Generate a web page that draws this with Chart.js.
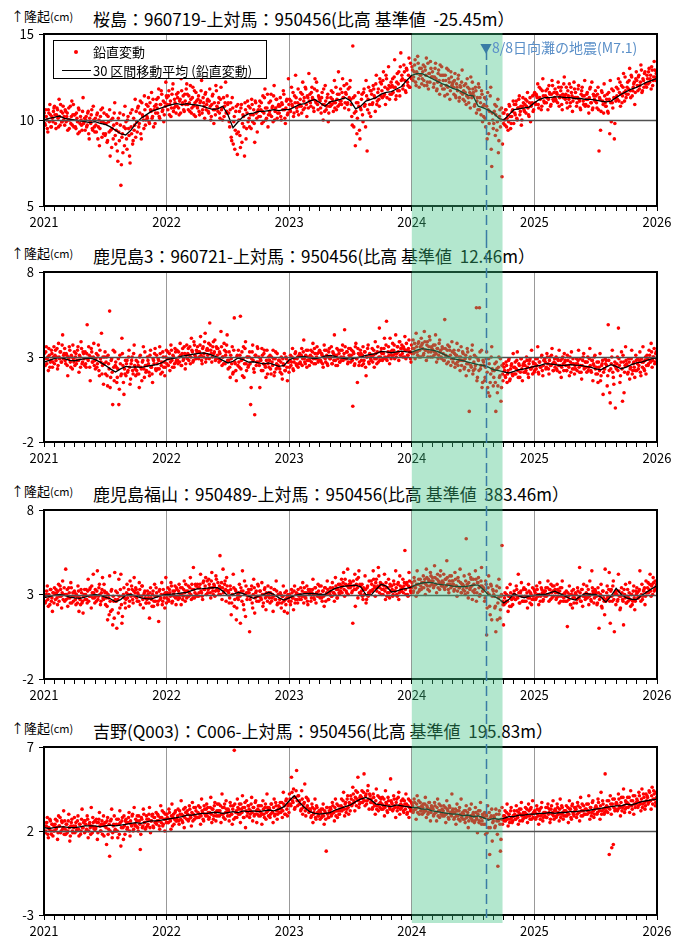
<!DOCTYPE html>
<html><head><meta charset="utf-8">
<script src="https://cdn.jsdelivr.net/npm/chart.js@4.4.1/dist/chart.umd.min.js"></script>
<style>
html,body{margin:0;padding:0;background:#fff;width:675px;height:940px;overflow:hidden;font-family:"Noto Sans CJK JP",sans-serif;}
.panel{position:absolute;left:0;width:675px;height:238px;}
.panel canvas{position:absolute;left:0;top:0;z-index:2;}
.unit{position:absolute;left:11px;font-size:13px;line-height:20px;z-index:1;color:#000;white-space:nowrap;}
.unit small{font-size:11px;}
.title{position:absolute;left:93px;font-size:17px;line-height:20px;z-index:1;white-space:pre;color:#000;}
.legend{position:absolute;left:53px;top:40px;width:212px;height:37px;border:1px solid #000;background:#fff;z-index:3;font-size:13px;}
.legend .dot{position:absolute;left:20px;top:9px;width:4px;height:4px;border-radius:2px;background:#f00;}
.legend .ln{position:absolute;left:8px;top:29px;width:29px;height:1px;background:#000;}
.legend .t{position:absolute;left:39px;line-height:16px;white-space:nowrap;}
.quake{position:absolute;left:480px;top:38px;font-size:14px;line-height:18px;color:#5a8fc8;z-index:3;white-space:nowrap;}
.quake b{font-weight:normal;color:#3a7ca5;font-size:12px;}
</style></head>
<body>
<div class="panel" style="top:0px"><canvas id="c0" width="675" height="238"></canvas>
 <div class="unit" style="top:6px">↑隆起<small>(cm)</small></div><div class="title" id="t0" style="top:9px"></div></div>
<div class="panel" style="top:238px"><canvas id="c1" width="675" height="238"></canvas>
 <div class="unit" style="top:5px">↑隆起<small>(cm)</small></div><div class="title" id="t1" style="top:8px"></div></div>
<div class="panel" style="top:476px"><canvas id="c2" width="675" height="238"></canvas>
 <div class="unit" style="top:5px">↑隆起<small>(cm)</small></div><div class="title" id="t2" style="top:8px"></div></div>
<div class="panel" style="top:714px"><canvas id="c3" width="675" height="238"></canvas>
 <div class="unit" style="top:4px">↑隆起<small>(cm)</small></div><div class="title" id="t3" style="top:7px"></div></div>
<div class="legend"><span class="dot"></span><span class="t" style="top:3px">鉛直変動</span><span class="ln"></span><span class="t" style="top:22px">30 区間移動平均 (鉛直変動)</span></div>
<div class="quake"><b>▼</b>8/8日向灘の地震(M7.1)</div>
<script>
// ---------- data ----------
const xYears = [2021, 2022, 2023, 2024, 2025, 2026];
const bandStart = 2024.0, bandEnd = 2024.74, quakeDate = 2024.605;
const panelTitles = [
  "桜島：960719-上対馬：950456(比高 基準値  -25.45m）",
  "鹿児島3：960721-上対馬：950456(比高 基準値  12.46m）",
  "鹿児島福山：950489-上対馬：950456(比高 基準値  383.46m）",
  "吉野(Q003)：C006-上対馬：950456(比高 基準値  195.83m）"
];
const yTicks0 = [5, 10, 15];
const yTicks1 = [-2, 3, 8];
const yTicks2 = [-2, 3, 8];
const yTicks3 = [-3, 2, 7];
const refLevels = [10, 3, 3, 2];

// daily vertical change, two interleaved sample sets (10 samples per month each, Jan 2021 - Dec 2025), cm
const sakurajimaDaily = [
10.4,9.7,10.2,9.5,10.6,9.9,10.3,9.6,10.1,10.5, 10.8,9.8,10.3,10.6,9.6,10.2,10.9,9.9,10.4,10.0,
9.7,10.5,10.2,9.4,10.7,10.0,9.8,11.1,10.3,9.6, 10.3,9.5,10.1,9.2,10.6,9.8,10.0,9.4,11.3,9.9,
9.4,10.2,9.7,10.5,8.9,9.9,10.3,9.5,10.8,9.6, 10.1,9.3,10.4,9.6,8.5,10.2,9.9,10.7,9.2,9.8,
9.2,10.3,8.8,9.9,10.6,9.4,8.4,10.1,9.7,11.0, 8.6,9.8,7.6,9.3,10.4,6.2,9.0,8.1,9.6,10.8,
9.9,8.3,10.2,9.1,7.5,9.6,10.6,8.8,9.4,11.2, 10.5,9.3,10.8,9.8,11.1,8.9,10.3,10.0,11.4,9.7,
10.9,10.1,11.3,9.8,10.6,11.6,10.2,9.6,10.8,10.4, 11.2,10.4,11.8,10.1,10.9,11.5,10.6,9.9,11.0,12.2,
11.3,10.6,11.7,10.9,10.2,11.5,12.1,10.7,11.0,10.4, 10.8,11.6,10.3,11.2,12.4,10.9,11.4,10.5,11.1,11.8,
11.5,10.6,11.0,12.0,10.4,11.3,10.8,11.7,10.2,11.1, 10.7,11.4,10.3,11.1,12.3,10.6,11.0,10.1,11.6,10.9,
11.2,10.4,11.8,10.0,10.9,11.5,9.8,10.6,12.0,10.8, 10.5,11.3,10.1,11.9,10.7,12.5,10.2,11.0,10.4,11.4,
11.0,9.9,10.6,9.0,11.3,8.6,10.2,9.4,10.8,8.0, 9.3,10.5,8.4,10.9,9.8,10.2,7.9,10.6,9.5,11.1,
10.8,9.6,10.3,11.2,9.9,10.6,8.7,11.0,10.1,10.5, 10.2,11.1,10.6,9.8,11.4,10.4,11.8,10.0,10.7,9.6,
11.0,10.3,11.5,10.7,9.9,12.0,10.5,11.2,10.1,10.8, 10.4,11.3,10.0,10.9,11.7,10.6,9.8,11.1,10.3,12.4,
11.2,10.5,11.9,10.8,10.2,11.4,12.6,10.7,11.0,10.3, 10.9,11.6,10.4,12.2,11.1,10.7,11.8,10.2,11.3,12.7,
11.5,10.8,11.9,11.2,10.5,12.4,11.0,11.7,10.6,11.3, 11.1,10.4,11.6,10.0,10.9,12.0,10.6,11.3,9.9,10.8,
10.8,11.7,11.2,10.5,12.3,11.0,10.6,11.5,12.8,10.9, 11.8,10.9,12.4,11.3,10.7,11.6,12.1,11.0,10.6,11.9,
11.2,10.2,14.3,9.6,11.4,10.5,9.2,11.0,10.8,8.9, 10.6,11.5,9.9,11.8,10.9,12.3,8.2,11.2,10.4,11.7,
11.7,10.9,12.0,11.4,10.5,12.6,11.1,11.8,10.8,12.2, 12.1,11.3,12.8,11.5,10.9,12.4,11.8,13.1,11.2,11.9,
11.5,12.4,11.9,13.5,11.2,12.2,11.7,12.8,11.4,13.9, 12.6,11.8,13.2,12.3,11.6,12.9,12.0,13.6,11.9,12.5,
13.1,12.3,12.8,13.5,12.0,12.7,13.3,11.9,12.6,13.0, 12.4,13.2,12.0,12.9,13.6,12.2,11.8,12.7,13.4,12.5,
12.8,11.9,12.5,13.3,11.7,12.2,12.9,11.5,12.6,13.1, 11.8,12.6,11.4,12.3,13.0,11.9,12.4,11.2,12.8,12.0,
12.2,11.5,12.7,11.3,11.9,12.4,11.1,12.0,11.6,12.9, 11.2,12.0,11.6,10.9,12.4,11.3,11.8,10.7,11.5,12.2,
11.6,10.8,11.9,10.4,11.3,12.1,10.6,11.0,11.7,9.9, 10.2,11.3,9.6,10.8,11.6,9.2,10.5,11.9,7.3,10.0,
9.8,10.9,10.3,9.4,11.2,8.8,10.6,10.0,6.7,10.4, 10.4,9.7,10.6,10.1,9.4,10.9,10.2,9.8,10.5,11.1,
10.9,10.3,11.1,10.0,10.7,11.4,10.5,9.7,10.8,11.0, 10.5,11.2,10.8,11.6,10.3,11.0,9.9,10.9,11.4,10.6,
11.6,10.9,11.4,12.1,10.7,11.3,11.8,10.8,12.4,11.1, 11.0,11.7,11.3,10.6,12.0,11.5,10.9,12.3,11.2,11.6,
11.8,11.1,11.5,12.2,10.8,11.4,11.9,10.6,11.3,12.5, 11.2,11.9,10.7,11.4,12.1,11.0,11.6,10.5,11.3,11.8,
11.6,10.8,11.3,12.0,11.1,10.6,11.7,11.4,10.9,12.3, 10.9,11.5,11.2,10.4,11.8,11.0,12.2,10.7,11.4,11.1,
11.4,10.7,11.9,8.2,11.2,10.5,11.6,10.9,12.1,11.0, 10.8,11.5,10.4,11.2,12.3,9.9,11.0,11.7,8.9,11.3,
11.9,11.2,12.4,11.6,10.8,12.0,11.4,12.7,11.1,11.7, 11.5,12.2,11.8,13.0,11.3,12.5,11.7,12.1,10.9,12.4,
12.3,11.7,12.6,12.0,13.2,11.6,12.4,11.9,12.8,12.1, 12.6,12.1,13.0,12.4,11.8,12.9,12.3,13.4,12.5,12.7
];
const sakurajimaDailyB = [
9.8,10.6,10.0,9.3,10.4,10.9,9.6,10.2,9.9,10.7, 10.3,9.5,10.7,10.1,11.2,9.7,10.5,9.9,10.8,10.2,
10.6,9.9,10.4,10.0,9.5,10.8,10.2,9.7,10.9,10.3, 9.6,10.4,9.9,10.7,9.3,10.2,9.7,10.5,9.8,10.1,
10.0,9.6,10.4,9.2,10.1,9.8,10.6,9.4,10.0,9.3, 9.7,10.3,8.9,10.0,9.5,10.6,9.0,9.9,10.4,9.1,
9.8,8.7,10.2,9.3,7.9,10.0,9.5,8.9,10.4,9.1, 9.4,8.2,10.1,8.8,9.7,7.4,9.2,10.3,8.5,9.5,
8.9,10.0,9.5,7.9,10.4,9.2,8.6,10.1,9.7,9.0, 9.9,10.7,9.6,10.4,9.2,11.0,10.2,9.5,10.6,10.0,
10.2,10.8,9.9,11.0,10.5,10.1,11.2,10.6,9.8,10.9, 10.7,11.3,10.2,10.9,11.7,10.5,11.1,10.3,10.8,11.4,
10.9,11.4,10.3,11.1,10.7,11.8,10.5,11.2,10.8,11.5, 11.3,10.7,11.1,10.4,11.7,11.0,10.6,11.5,10.9,12.1,
10.9,11.4,10.5,11.2,10.7,11.9,10.3,11.0,11.6,10.8, 11.2,10.5,11.0,11.7,10.4,11.3,10.8,11.5,10.6,11.1,
10.5,11.1,10.8,10.2,11.4,10.6,11.0,10.3,11.7,10.7, 11.0,10.4,11.2,10.6,10.0,11.3,10.8,12.2,10.5,10.9,
10.4,9.6,11.0,8.8,10.7,9.9,8.3,10.5,9.2,10.9, 10.0,9.1,10.7,8.7,10.3,9.6,11.0,8.9,10.4,9.9,
10.1,10.7,9.5,10.9,10.3,9.8,11.1,10.4,9.3,10.6, 10.8,10.2,11.0,10.5,9.9,11.3,10.7,10.1,11.5,10.3,
10.5,11.1,10.2,10.8,11.4,10.0,10.7,11.2,10.4,10.9, 10.8,10.2,11.0,10.6,11.5,10.1,10.7,11.2,10.4,10.9,
10.6,11.1,10.9,11.6,10.4,11.0,11.3,10.5,11.8,10.8, 11.2,10.8,11.5,10.6,11.3,11.9,10.9,11.4,10.7,11.1,
11.0,11.6,11.3,10.7,11.8,11.1,12.2,10.9,11.4,11.2, 10.7,11.3,10.9,11.8,10.5,11.1,10.8,11.5,10.4,11.0,
11.3,10.9,11.6,11.0,10.7,11.9,11.2,10.8,11.5,11.1, 11.1,11.6,11.3,12.0,11.0,11.5,10.9,11.8,11.3,12.3,
10.9,9.7,11.3,10.4,8.5,11.0,10.1,11.6,9.4,10.7, 11.2,10.3,11.6,10.8,9.6,11.4,10.6,11.9,10.9,10.2,
11.5,11.0,11.8,11.3,12.1,10.9,11.6,11.2,12.4,11.4, 11.7,12.3,11.4,11.9,12.6,11.3,11.8,12.0,11.5,12.2,
12.0,11.6,12.5,11.9,11.4,12.7,12.1,11.7,13.1,12.3, 12.4,12.0,12.8,11.7,13.0,12.2,12.6,11.9,13.3,12.4,
12.9,12.5,13.2,12.2,12.8,13.7,12.4,13.0,12.6,12.1, 12.8,12.3,13.1,12.6,12.0,13.3,12.7,12.2,13.0,12.5,
12.5,12.1,13.0,12.4,11.8,12.7,12.3,13.2,12.0,12.6, 12.3,11.8,12.6,12.0,11.5,12.9,12.2,11.7,12.5,12.1,
11.9,12.3,11.4,12.1,11.7,12.6,11.3,11.9,12.2,11.5, 11.7,11.1,12.1,11.4,11.9,11.0,11.6,12.5,11.3,11.8,
11.4,10.9,11.7,11.1,10.6,11.9,11.3,10.3,11.5,10.8, 10.9,10.1,11.2,8.9,10.6,9.8,11.4,8.3,10.4,9.5,
10.5,9.1,10.8,9.9,8.1,10.2,9.6,10.7,8.6,9.8, 10.0,10.6,9.6,10.3,9.9,10.8,9.5,10.2,10.6,9.8,
10.4,10.9,10.1,10.7,11.2,10.3,10.8,10.0,11.3,10.6, 10.9,10.4,11.1,10.7,10.2,11.3,10.8,11.0,10.5,11.5,
11.0,11.5,11.3,10.9,11.9,11.2,10.6,11.7,11.4,11.0, 11.4,11.0,11.8,11.2,11.6,10.8,11.5,12.0,11.1,11.3,
11.2,11.6,11.0,11.9,11.3,11.7,10.9,11.5,12.1,11.4, 11.5,11.0,11.7,11.2,10.8,11.9,11.4,11.1,12.2,11.3,
11.3,11.0,11.8,11.2,10.7,11.5,11.9,11.1,11.4,10.8, 11.2,11.6,10.8,11.3,11.9,11.0,10.6,11.5,11.2,11.7,
11.0,11.5,10.6,11.3,9.4,11.7,11.1,10.4,11.4,10.8, 11.2,10.5,11.6,9.2,11.0,11.8,10.7,11.3,9.8,11.1,
11.4,11.8,11.1,12.2,11.5,11.0,11.9,11.6,12.5,11.3, 11.9,11.5,12.3,11.7,12.6,11.4,11.9,12.2,11.6,12.8,
12.0,12.5,11.8,12.2,12.9,11.7,12.3,12.7,12.1,11.9, 12.4,12.8,12.2,12.6,13.1,12.0,12.5,12.9,12.3,12.8
];
// 30-point moving average, half-month steps 2021.0 - 2026.0
const sakurajimaMA = [
10.0,10.1,10.15,10.23,10.1,10.05,10.0,9.95,9.9,9.85,9.9,9.8,9.75,9.6,9.4,9.2,9.13,9.4,9.8,10.1,10.3,10.5,10.6,10.7,
10.8,10.9,10.95,10.9,10.95,10.9,10.87,10.8,10.7,10.62,10.65,10.8,10.3,9.55,9.9,10.2,10.35,10.4,10.5,10.5,10.55,10.6,10.55,10.6,
10.6,10.75,10.9,10.95,11.1,11.2,11.0,10.8,11.05,11.12,11.2,11.3,11.1,10.65,10.8,11.1,11.2,11.3,11.5,11.6,11.65,11.8,11.95,12.3,
12.6,12.7,12.7,12.55,12.4,12.25,12.1,12.0,11.84,11.75,11.6,11.45,11.4,10.8,10.7,10.58,10.4,10.1,10.0,10.3,10.6,10.65,10.7,10.75,
11.0,11.2,11.3,11.3,11.35,11.35,11.3,11.3,11.25,11.25,11.2,11.2,11.15,11.1,11.05,11.1,11.3,11.5,11.65,11.8,11.9,12.05,12.2,12.3,12.42
];

const kagoshima3Daily = [
3.2,2.5,3.6,2.9,2.2,3.1,2.7,3.4,2.4,3.0, 2.6,3.4,3.0,2.3,3.8,2.9,3.3,2.7,4.3,3.1,
3.5,2.6,3.1,1.9,2.9,3.4,2.4,3.0,3.7,2.7, 2.5,3.2,2.8,3.6,2.1,3.0,3.9,2.6,3.3,2.9,
3.3,2.4,4.9,2.8,3.1,1.6,3.5,2.7,3.0,2.5, 2.3,3.2,2.6,3.7,1.9,2.9,4.4,2.5,1.4,3.0,
2.0,3.0,1.3,2.6,5.7,1.8,2.9,0.2,2.4,3.3, 2.7,1.5,2.3,0.2,3.1,1.9,4.1,2.5,0.8,2.0,
1.9,2.8,2.2,3.4,1.4,2.6,3.0,2.0,3.7,2.3, 2.8,2.0,2.5,1.2,3.1,2.3,2.7,3.6,1.8,2.5,
2.2,3.0,2.6,1.9,3.4,2.4,1.5,2.8,3.2,2.3, 3.1,2.3,2.8,3.6,2.0,2.7,3.3,2.4,1.9,3.0,
2.6,3.3,2.9,2.2,3.7,2.8,3.1,2.4,3.5,2.7, 3.4,2.6,3.0,3.8,2.5,3.2,2.8,3.6,2.3,3.1,
2.9,3.5,3.1,2.6,4.1,3.3,2.8,3.7,3.0,3.4, 3.6,2.9,3.3,4.2,2.8,3.5,3.0,3.9,2.7,3.4,
3.1,3.8,5.0,3.4,2.7,3.6,3.2,4.0,2.9,3.5, 3.5,2.7,3.2,4.5,2.5,3.0,3.8,2.6,3.3,4.3,
2.3,3.3,1.8,2.9,3.6,2.1,5.3,2.6,1.6,3.1, 3.4,2.4,5.4,2.8,1.9,3.6,2.6,3.9,2.2,3.0,
2.5,3.3,0.2,2.9,3.7,2.3,-0.4,3.1,2.7,3.5, 3.0,1.2,2.8,3.5,2.2,3.2,2.5,1.8,3.4,2.6,
2.4,3.1,2.0,2.7,3.4,1.9,2.9,2.3,3.2,2.5, 2.8,2.1,3.0,1.7,2.6,3.2,2.2,2.9,1.6,2.7,
2.4,3.1,2.7,3.5,2.2,2.9,3.3,2.5,3.0,2.6, 3.2,2.6,3.5,2.9,4.0,2.7,3.1,2.4,3.4,2.8,
2.8,3.4,3.0,3.8,2.6,3.2,2.9,3.6,2.7,3.3, 3.3,2.7,3.1,2.4,3.7,2.9,3.4,2.6,3.0,3.5,
2.9,3.6,2.6,3.2,4.3,2.8,3.1,2.5,3.4,2.7, 3.4,2.8,3.7,3.0,4.6,2.9,3.3,2.6,3.5,3.1,
2.7,3.4,0.1,3.2,2.6,3.8,2.9,3.5,2.5,3.1, 3.2,2.5,3.6,2.8,3.3,1.9,3.0,3.7,2.6,3.1,
2.8,3.5,3.1,2.4,3.9,2.9,3.3,2.7,4.7,3.0, 3.5,2.8,3.2,4.1,2.9,5.1,3.0,3.6,2.6,3.3,
3.1,3.8,3.4,2.9,4.3,3.2,3.6,2.8,3.9,3.5, 3.7,3.0,3.5,4.2,2.9,3.4,3.1,4.0,3.3,2.7,
3.2,4.0,3.5,2.9,4.4,3.3,3.8,3.0,3.6,4.1, 3.8,3.1,4.5,3.4,2.8,3.9,3.3,4.2,3.0,3.6,
3.0,3.7,3.3,4.3,2.7,3.5,3.1,4.0,3.4,2.9, 3.5,2.8,5.2,3.1,2.6,3.7,3.0,3.4,2.5,3.9,
2.7,3.4,2.4,3.1,3.8,2.5,3.0,2.2,3.6,2.8, 3.2,2.3,2.9,1.9,3.5,2.6,-0.2,3.0,2.4,3.7,
2.2,3.1,2.5,5.9,1.8,2.8,5.9,2.3,3.4,1.5, 2.7,1.6,2.4,3.3,1.2,2.9,0.7,2.0,3.6,2.2,
1.8,2.6,-0.2,2.3,1.3,3.0,1.9,0.4,2.5,1.6, 2.4,1.9,2.7,1.5,2.2,2.9,1.7,2.5,2.0,3.2,
2.0,2.7,2.3,3.3,1.8,2.5,2.1,2.9,1.6,2.6, 2.7,2.1,3.0,2.4,1.8,2.8,2.3,3.4,2.0,2.6,
2.2,2.9,2.5,3.6,2.0,2.7,2.4,3.1,1.9,2.8, 2.9,2.3,3.2,2.6,2.0,3.0,2.5,3.5,2.2,2.7,
2.4,3.0,2.2,2.8,3.4,2.5,1.8,2.9,2.6,3.2, 2.8,2.2,3.1,2.5,1.9,2.7,3.3,2.3,2.6,2.0,
2.3,2.9,2.6,3.4,2.1,2.5,1.7,2.8,3.2,2.4, 2.7,2.1,3.0,2.4,3.5,2.2,2.8,1.6,2.5,3.1,
2.0,2.7,1.5,2.4,3.2,1.9,2.6,0.8,2.3,2.9, 2.8,1.3,4.9,2.2,0.3,2.6,3.4,1.8,2.5,0.0,
2.3,3.0,4.7,2.5,1.9,3.3,0.4,2.7,2.1,3.6, 2.6,2.0,2.9,1.7,2.4,3.4,2.2,2.7,1.8,3.1,
2.2,2.9,2.5,3.3,1.9,2.7,3.6,2.3,2.8,2.0, 3.1,2.5,3.4,2.8,3.8,2.4,3.0,3.5,2.7,3.3
];
const kagoshima3DailyB = [
2.9,3.3,2.6,3.0,3.5,2.4,2.8,3.2,2.7,3.6, 3.1,2.8,3.5,2.5,3.0,3.3,2.7,3.7,2.9,3.2,
2.8,3.2,2.5,3.0,3.6,2.7,3.1,2.3,2.9,3.3, 3.0,2.6,3.4,2.8,3.1,2.4,3.5,2.7,3.2,2.5,
2.6,3.2,2.9,3.6,2.4,3.0,3.3,2.7,3.8,2.8, 2.9,2.4,3.1,2.2,3.4,2.7,2.0,3.0,2.6,3.3,
2.7,1.9,3.1,2.3,1.2,2.8,2.1,3.4,1.6,2.5, 2.4,1.8,2.9,1.1,2.6,2.0,3.2,1.5,2.3,2.8,
2.6,2.1,3.0,2.4,1.7,2.8,2.2,3.2,2.5,1.9, 2.2,2.7,2.0,3.0,2.4,1.6,2.8,2.3,3.3,2.1,
2.5,2.8,2.1,3.1,2.4,2.0,2.9,2.6,3.5,2.2, 2.6,2.9,2.3,3.2,2.5,2.1,3.0,2.7,2.4,3.4,
2.9,2.5,3.2,2.7,3.4,2.4,3.0,2.6,3.3,2.8, 2.8,3.3,2.7,3.1,2.5,3.5,2.9,3.2,2.6,3.7,
3.2,2.8,3.6,3.0,3.4,2.7,3.9,3.1,2.9,3.3, 3.3,3.0,3.7,3.1,2.6,3.6,3.2,4.4,2.9,3.5,
3.4,2.9,3.7,3.2,3.0,3.9,3.3,2.8,3.6,3.1, 2.9,3.3,2.8,3.6,3.0,2.6,3.4,3.1,3.7,2.8,
2.8,2.4,3.1,2.6,2.0,3.4,2.7,2.2,3.0,2.5, 2.7,3.1,2.3,3.3,2.9,1.8,3.5,2.6,3.0,2.4,
3.0,2.6,1.2,3.3,2.8,2.1,3.1,2.5,3.6,2.7, 2.5,2.9,2.2,3.1,2.6,3.4,2.4,2.8,2.0,3.0,
2.8,2.3,3.0,2.5,2.9,2.1,3.3,2.6,2.4,2.8, 2.3,2.7,2.0,2.9,2.5,2.2,3.0,2.4,2.7,2.1,
2.8,2.5,3.0,2.3,2.7,3.2,2.6,2.9,2.4,3.1, 2.7,3.1,2.5,3.3,2.9,2.6,3.4,2.8,3.0,2.5,
3.1,2.7,3.3,2.9,3.5,2.6,3.0,3.2,2.8,3.4, 2.8,3.2,2.6,3.0,3.4,2.7,3.1,2.5,3.3,2.9,
3.0,2.6,3.3,2.8,3.1,2.5,3.5,2.9,3.2,2.7, 3.0,3.4,2.8,3.2,3.6,2.9,3.3,2.7,3.1,3.5,
3.1,2.8,3.3,2.5,3.6,2.9,1.5,3.2,2.7,3.4, 2.8,3.1,2.6,3.3,2.4,3.0,3.5,2.7,3.2,2.9,
3.1,2.7,3.4,2.9,3.2,2.6,3.6,3.0,2.8,3.3, 3.2,2.9,3.5,3.0,3.7,2.8,3.3,3.1,4.1,2.9,
3.4,3.1,3.7,3.2,3.0,3.6,3.3,3.9,3.1,3.5, 3.2,3.6,3.0,3.4,3.8,3.1,3.5,3.3,2.9,3.7,
3.5,3.2,3.8,3.3,3.6,3.1,3.9,3.4,3.0,3.7, 3.5,3.2,3.9,3.4,3.7,3.0,3.6,4.0,3.3,3.5,
3.4,3.1,3.7,3.2,3.5,2.9,3.8,3.3,3.0,3.6, 3.2,2.8,3.5,3.0,3.4,2.7,3.6,3.1,2.9,3.3,
2.9,3.2,2.6,3.1,2.7,3.4,2.8,3.0,2.5,3.3, 2.8,2.4,3.1,2.6,3.3,2.2,2.9,2.5,3.4,2.0,
2.7,2.3,3.0,1.6,2.9,2.2,3.3,2.5,1.2,2.8, 2.5,1.8,2.9,2.1,0.9,2.6,1.5,3.0,2.3,1.3,
2.2,1.5,2.7,0.9,2.4,1.8,2.9,1.2,2.0,2.6, 2.2,1.8,2.5,2.0,2.8,1.6,2.3,2.6,1.9,2.4,
2.4,2.0,2.8,2.2,2.6,1.8,2.9,2.3,2.5,2.1, 2.5,2.2,2.8,2.0,2.6,2.9,2.3,2.4,2.7,2.1,
2.6,2.3,2.9,2.1,2.7,2.4,3.0,2.2,2.5,2.8, 2.7,2.4,3.0,2.3,2.8,2.5,3.1,2.6,2.2,2.9,
2.6,2.3,2.9,2.5,2.1,2.8,2.4,3.0,2.2,2.7, 2.5,2.2,2.8,2.4,3.0,2.1,2.6,2.9,2.3,2.5,
2.6,2.2,2.8,2.4,2.9,2.1,2.5,3.0,2.3,2.7, 2.4,2.7,2.2,2.9,2.5,2.1,2.8,2.6,3.0,2.3,
2.4,2.0,2.7,2.2,1.6,2.5,2.8,2.1,2.3,2.6, 2.5,1.9,2.8,0.9,2.3,3.0,2.1,1.4,2.7,2.4,
2.6,2.2,2.9,1.5,2.7,2.3,3.1,0.9,2.5,2.8, 2.5,2.1,2.7,2.3,2.9,2.0,2.6,2.4,2.2,2.8,
2.6,2.3,2.8,2.1,2.9,2.4,2.7,2.2,3.0,2.5, 2.9,2.6,3.1,2.7,3.3,2.8,3.0,2.6,3.2,2.9
];
const kagoshima3MA = [
2.7,2.8,2.9,2.98,2.9,2.8,2.78,2.85,2.9,2.94,2.85,2.7,2.51,2.3,2.12,2.3,2.45,2.4,2.42,2.39,2.45,2.5,2.55,2.65,
2.84,2.9,2.95,3.05,3.1,3.15,3.2,3.24,3.2,3.1,2.98,2.8,2.65,2.75,2.94,2.85,2.7,2.72,2.65,2.6,2.65,2.55,2.45,2.5,
2.84,2.95,3.0,3.04,2.95,2.9,2.95,3.05,3.1,3.04,2.95,2.9,2.88,2.95,3.0,3.1,3.15,3.2,3.33,3.3,3.25,3.3,3.35,3.3,
3.29,3.4,3.49,3.45,3.4,3.33,3.2,3.05,2.9,2.85,2.78,2.7,2.62,2.55,2.5,2.4,2.25,2.2,2.12,2.06,2.15,2.25,2.3,2.38,
2.45,2.5,2.59,2.6,2.55,2.5,2.51,2.55,2.52,2.51,2.45,2.4,2.3,2.25,2.4,2.55,2.45,2.31,2.4,2.55,2.65,2.7,2.8,2.9,2.94
];

const fukuyamaDaily = [
3.2,2.5,3.0,3.5,2.3,2.9,3.3,2.6,2.0,3.1, 3.4,2.7,3.1,2.4,3.6,2.9,3.3,2.2,3.8,3.0,
2.6,4.5,3.0,2.3,3.4,2.8,3.7,2.5,3.1,2.9, 3.1,2.4,2.9,3.5,2.0,2.7,3.3,2.5,1.9,3.0,
2.7,3.3,2.5,3.9,2.9,3.4,2.2,3.1,4.2,2.8, 3.3,2.6,4.4,2.9,3.6,2.4,3.1,4.0,2.7,3.2,
2.4,3.1,1.5,2.8,4.1,2.0,3.3,1.2,2.6,4.3, 3.2,1.0,2.7,3.9,2.2,4.2,1.3,2.9,3.4,2.5,
2.7,3.6,3.0,2.3,3.8,2.9,3.3,2.5,4.0,3.1, 3.3,2.6,3.0,3.7,2.4,2.9,3.5,2.2,3.1,2.8,
2.5,3.2,2.8,1.6,3.4,2.7,3.0,2.3,3.6,2.6, 3.1,2.4,1.4,3.3,2.8,3.7,2.6,3.0,2.2,4.0,
2.8,3.4,2.6,3.1,3.7,2.5,3.2,2.9,3.5,2.4, 3.3,2.7,3.6,3.0,2.4,3.4,2.9,3.8,2.6,3.2,
2.9,3.5,3.1,4.0,2.7,3.3,4.6,2.8,3.6,3.0, 3.6,2.9,3.4,4.2,3.1,2.7,3.8,3.3,4.0,3.0,
3.1,3.9,3.4,2.8,4.3,3.2,3.6,2.9,4.1,3.3, 3.7,3.0,5.3,3.4,2.7,4.5,3.2,3.8,2.6,3.5,
3.2,2.5,3.5,1.8,3.0,4.2,2.3,3.3,1.5,2.8, 2.7,3.6,1.3,3.2,4.4,2.4,3.8,1.7,3.1,2.9,
3.3,0.8,2.9,3.5,2.2,3.9,1.9,3.1,2.6,3.6, 2.6,3.2,2.8,3.7,2.3,3.0,3.4,2.1,2.9,3.5,
3.1,2.5,3.4,2.8,2.0,3.3,2.7,3.8,2.4,3.0, 2.5,3.1,2.2,2.9,3.5,2.0,2.7,3.2,1.9,2.8,
3.0,2.4,3.3,2.8,2.1,3.5,2.7,3.1,2.5,3.0, 2.7,3.4,2.9,3.7,2.5,3.1,2.8,3.5,2.4,3.2,
3.3,2.6,3.1,3.9,2.8,3.4,2.5,3.0,3.6,2.9, 2.8,3.5,2.6,3.2,2.3,3.4,3.0,3.8,2.7,3.1,
3.4,2.9,3.7,3.1,2.6,4.0,3.3,2.8,3.6,3.0, 3.2,3.9,3.5,4.3,2.9,3.6,3.1,4.5,3.4,3.8,
3.7,3.1,1.3,3.5,4.2,3.3,3.9,2.8,4.4,3.6, 3.0,3.6,2.7,3.3,4.1,2.5,3.4,2.9,3.8,3.2,
3.8,3.2,4.4,3.5,2.9,3.9,3.4,4.6,3.1,3.7, 3.0,3.6,3.3,4.2,2.7,3.4,3.1,3.9,2.8,3.5,
3.5,2.9,3.8,3.2,4.4,3.0,3.6,2.7,4.1,3.3, 3.2,3.9,3.5,5.6,3.0,3.7,2.9,4.3,3.4,3.1,
3.7,3.1,4.0,3.4,2.9,4.4,3.6,3.2,3.9,3.3, 3.4,4.1,3.7,3.0,4.5,3.5,3.9,3.2,4.3,3.8,
4.0,3.4,4.7,3.6,3.1,4.2,3.8,3.3,4.4,3.7, 3.5,4.2,3.3,3.9,5.0,3.6,3.1,4.1,3.4,3.8,
3.8,3.2,4.3,3.5,2.9,4.0,3.4,4.5,3.1,3.6, 3.3,4.1,3.0,6.3,3.6,2.8,4.2,3.4,3.9,2.7,
3.9,3.1,4.4,2.6,3.7,4.0,2.9,3.5,4.6,3.2, 3.4,2.6,3.8,0.6,3.1,4.1,2.3,3.6,1.5,3.3,
3.0,2.2,0.8,3.5,2.5,3.9,1.6,2.9,5.9,2.4, 2.4,3.1,2.6,3.4,2.0,2.9,3.6,2.3,2.8,3.0,
3.2,2.7,3.5,2.9,4.2,2.5,3.1,3.7,2.6,3.3, 2.6,3.3,2.9,2.2,3.6,2.8,3.1,2.4,3.4,2.7,
3.2,2.7,3.5,3.0,2.4,3.7,2.9,3.3,2.6,3.1, 2.9,3.4,3.0,3.8,2.6,3.3,3.6,2.8,3.2,3.5,
3.3,2.7,3.6,3.1,2.5,3.4,2.9,3.8,2.6,3.0, 2.6,3.2,1.1,2.9,3.5,2.4,3.0,2.2,3.3,2.8,
3.1,2.5,3.4,2.8,4.6,2.6,3.3,2.3,3.6,2.9, 2.8,3.5,3.0,2.4,3.8,2.7,4.4,3.2,2.5,3.3,
3.1,2.4,3.4,1.0,2.9,3.6,2.2,3.2,2.6,4.5, 2.7,3.5,2.9,4.3,1.3,3.3,2.6,3.8,0.8,3.1,
3.2,2.6,4.2,2.9,2.2,3.4,2.7,1.2,3.0,3.6, 2.5,3.3,2.8,3.7,2.3,3.0,2.6,3.5,2.1,3.2,
3.4,2.8,3.2,4.4,2.6,3.6,2.9,3.3,2.4,3.8, 3.1,3.7,3.3,4.2,2.9,3.6,4.0,3.2,3.8,3.5
];
const fukuyamaDailyB = [
2.9,2.6,3.2,2.7,3.0,2.4,3.3,2.8,3.1,2.5, 3.0,3.3,2.8,3.2,2.6,3.5,2.9,3.1,2.7,3.4,
3.0,2.7,3.3,2.8,3.1,2.5,3.4,2.9,2.6,3.2, 2.7,3.0,2.5,3.2,2.8,2.4,3.1,2.6,2.9,3.3,
3.0,2.7,3.2,2.6,3.3,2.9,3.5,2.8,3.1,2.5, 2.9,3.2,2.7,3.4,3.0,2.6,3.3,2.8,3.6,3.1,
2.8,2.3,3.0,1.8,2.6,3.2,2.1,2.9,1.6,2.7, 2.6,3.1,1.9,2.9,3.3,2.4,1.7,3.0,2.8,2.2,
3.1,2.8,3.3,2.6,3.0,3.5,2.7,3.2,2.9,3.4, 2.8,3.1,2.6,3.3,2.9,3.5,2.7,3.0,3.2,2.5,
2.7,3.0,2.5,3.1,2.8,2.3,3.2,2.6,2.9,3.4, 2.9,2.6,3.2,2.7,3.0,2.4,3.3,2.8,3.1,2.5,
3.1,2.7,3.3,2.9,3.5,2.6,3.0,3.2,2.8,3.4, 2.9,3.2,2.8,3.4,3.0,2.7,3.3,3.1,3.6,2.8,
3.2,2.9,3.4,3.0,3.6,2.8,3.3,3.1,3.5,2.9, 3.4,3.1,3.6,3.2,2.9,3.7,3.3,3.5,3.0,3.8,
3.3,3.6,3.1,3.8,3.4,3.0,3.5,3.2,3.9,3.3, 3.2,3.5,3.0,3.7,3.4,3.1,3.6,3.3,4.0,3.2,
3.1,2.8,3.3,2.5,3.0,3.4,2.7,3.2,2.2,3.0, 3.1,2.9,3.4,2.6,3.2,2.1,3.0,3.5,2.7,3.1,
3.1,2.7,3.3,2.5,3.0,3.4,2.8,3.2,2.9,3.5, 2.9,3.2,2.7,3.0,2.5,3.3,2.8,3.1,2.6,3.0,
2.8,3.1,2.6,3.0,2.9,3.3,2.7,3.2,2.5,3.0, 2.7,3.0,2.5,2.9,2.6,3.1,2.4,2.8,3.0,2.6,
2.9,2.6,3.1,2.8,3.2,2.5,3.0,2.7,3.3,2.9, 3.0,2.7,3.2,2.9,3.4,2.8,3.1,2.6,3.3,3.0,
3.1,2.8,3.3,3.0,2.7,3.4,3.1,2.9,3.2,3.5, 3.0,2.8,3.2,2.9,3.4,2.6,3.1,3.3,2.7,3.0,
3.2,2.9,3.4,3.1,3.0,3.5,2.8,3.3,3.1,3.6, 3.4,3.1,3.7,3.3,3.9,3.2,3.5,3.0,3.6,3.4,
3.5,3.2,3.8,3.3,2.3,3.6,3.4,4.0,3.1,3.5, 3.2,2.9,3.4,3.0,3.3,2.7,3.5,3.1,3.0,3.2,
3.6,3.3,3.9,3.4,3.7,3.2,3.5,4.1,3.4,3.6, 3.3,3.0,3.5,3.2,3.7,2.9,3.4,3.1,3.6,3.2,
3.3,3.0,3.6,3.2,3.4,2.9,3.7,3.1,3.5,3.2, 3.4,3.1,3.7,3.3,3.6,3.0,3.5,3.8,3.2,3.4,
3.5,3.2,3.8,3.4,3.6,3.1,3.9,3.3,3.5,3.7, 3.7,3.4,3.9,3.6,4.0,3.3,3.8,3.5,4.1,3.6,
3.8,3.5,4.0,3.6,3.9,3.4,3.7,4.1,3.5,3.8, 3.7,3.4,3.9,3.5,4.0,3.3,3.8,3.6,4.1,3.5,
3.6,3.3,3.9,3.5,3.2,3.8,3.4,3.7,3.1,3.6, 3.5,3.2,3.8,3.4,3.1,3.7,3.3,4.0,3.5,3.2,
3.6,3.3,3.9,3.1,3.7,3.4,3.0,3.8,3.5,3.2, 3.3,2.8,3.6,2.2,3.4,3.0,1.8,3.5,2.9,3.2,
2.9,2.3,3.2,1.5,2.8,3.4,2.1,3.0,2.6,1.2, 2.8,2.5,3.0,2.6,2.9,2.3,3.1,2.7,2.4,2.8,
3.0,2.7,3.3,2.8,3.1,2.5,3.2,2.9,2.6,3.4, 2.9,2.6,3.1,2.8,3.2,2.5,3.0,2.7,2.9,3.3,
3.1,2.8,3.3,2.9,3.0,2.6,3.4,3.1,2.7,3.2, 3.2,2.9,3.4,3.0,3.3,2.7,3.1,3.5,2.9,3.2,
3.1,2.8,3.3,2.9,3.2,2.6,3.4,3.0,2.8,3.1, 2.9,2.6,3.1,2.7,3.0,2.4,3.2,2.8,2.5,3.0,
3.0,2.7,3.2,2.8,3.1,2.6,3.3,2.9,3.0,2.7, 3.1,2.8,3.3,2.9,3.0,2.6,3.4,3.1,2.8,3.2,
2.9,2.5,3.1,2.7,3.0,2.3,3.2,2.8,1.8,2.6, 3.1,2.8,3.3,2.6,3.2,2.9,3.5,2.7,3.0,2.4,
3.0,2.7,3.2,2.1,2.9,3.1,2.6,3.3,2.8,2.5, 2.9,2.6,3.1,2.7,3.0,2.4,3.2,2.8,2.6,3.0,
3.1,2.8,3.3,2.9,3.0,2.7,3.2,3.4,2.9,3.1, 3.4,3.1,3.6,3.2,3.5,3.0,3.7,3.3,3.4,3.6
];
const fukuyamaMA = [
2.81,2.88,2.95,3.01,2.95,2.85,2.8,2.77,2.85,2.95,3.0,2.95,2.85,2.75,2.57,2.7,2.95,3.0,2.9,2.8,2.75,2.73,2.85,2.95,
3.0,3.02,3.05,3.1,3.13,3.25,3.33,3.35,3.38,3.4,3.4,3.2,2.93,3.0,3.13,3.05,2.9,2.77,2.9,3.0,3.13,3.0,2.8,2.67,
2.8,2.93,3.0,3.05,3.07,3.05,3.0,3.0,3.2,3.36,3.45,3.5,3.52,3.55,3.45,3.0,2.95,3.3,3.6,3.5,3.15,3.2,3.3,3.36,
3.45,3.6,3.68,3.72,3.7,3.62,3.58,3.55,3.5,3.48,3.46,3.5,3.55,3.56,3.3,2.97,2.9,2.75,2.5,2.7,3.05,2.9,2.81,2.9,
2.95,3.0,3.0,3.1,3.2,3.05,2.9,2.75,2.67,2.9,3.07,3.0,3.0,2.85,2.55,2.9,3.36,3.0,2.8,2.72,2.7,2.95,3.15,3.35,3.52
];

const yoshinoDaily = [
2.5,1.9,2.3,2.8,1.6,2.1,2.6,1.8,2.4,2.0, 2.0,2.7,2.2,1.5,2.9,2.3,1.9,2.6,2.1,3.2,
2.6,1.8,2.4,2.0,3.0,1.4,2.3,2.7,1.9,2.2, 1.9,2.5,2.1,2.9,1.7,2.4,2.0,3.3,2.2,2.6,
2.6,2.0,2.9,1.6,2.4,2.2,3.4,1.9,2.5,2.1, 2.1,2.7,1.5,2.5,3.1,2.0,2.4,1.8,2.9,2.3,
2.5,1.2,2.8,2.1,0.5,2.6,3.3,1.9,2.4,2.0, 2.0,2.7,1.6,2.4,3.2,1.1,2.6,2.2,2.9,1.8,
2.7,2.1,2.5,3.1,1.7,2.4,2.9,2.0,3.4,2.3, 2.3,2.9,2.0,2.6,0.9,2.8,2.2,3.3,2.5,2.1,
2.9,2.3,2.7,3.4,1.9,2.6,3.0,2.2,2.8,2.5, 2.4,3.0,2.6,2.1,3.5,2.8,2.3,3.1,2.0,2.7,
3.0,2.5,3.3,2.7,2.1,3.6,2.8,2.4,3.1,2.6, 2.7,3.3,2.4,3.0,3.8,2.6,2.9,2.2,3.4,3.1,
3.2,2.6,3.5,2.9,2.3,3.7,3.0,2.7,3.4,2.8, 2.8,3.5,3.0,2.4,3.9,3.1,2.6,3.3,2.9,3.6,
3.4,2.7,3.1,4.0,2.5,3.3,2.9,3.7,2.6,3.2, 2.9,3.6,3.2,2.5,4.2,3.0,3.4,2.7,3.8,3.1,
3.3,2.6,3.7,3.0,2.4,3.5,6.8,2.8,3.2,3.9, 3.0,3.6,2.5,3.3,4.1,2.8,3.4,2.2,3.8,3.1,
3.5,2.8,3.2,4.0,2.6,3.4,3.0,3.8,2.5,3.3, 2.9,3.5,3.1,2.4,3.8,3.0,3.4,2.7,4.2,3.2,
3.4,2.8,3.6,3.1,2.5,3.9,3.0,3.5,2.7,3.3, 3.1,3.7,3.3,2.8,4.3,3.5,3.0,3.9,2.9,3.6,
4.2,3.6,5.2,3.8,4.5,3.3,4.0,5.6,3.5,4.1, 3.8,3.2,4.4,3.0,3.6,4.8,2.9,3.4,3.9,3.1,
3.3,2.8,3.6,2.5,3.1,3.9,2.7,3.4,2.9,3.2, 2.7,3.3,2.9,3.6,2.4,3.1,0.8,3.4,2.8,3.2,
3.4,2.9,3.7,3.1,2.6,3.9,3.2,2.8,3.5,3.0, 3.2,3.9,3.4,4.3,2.9,3.7,3.3,4.1,3.0,3.6,
4.1,3.5,4.6,3.8,3.2,4.4,3.9,5.2,3.4,4.0, 3.7,4.4,3.9,5.4,3.5,4.2,3.8,4.7,3.3,4.1,
3.9,3.3,4.2,3.6,3.0,4.5,3.5,3.2,4.0,3.7, 3.3,4.0,3.5,2.9,4.4,3.6,3.1,3.8,3.4,5.1,
3.7,3.2,4.1,3.5,2.8,3.9,3.4,4.3,3.0,3.6, 3.4,3.9,3.1,3.6,4.2,3.0,3.5,2.8,3.8,3.3,
3.6,3.1,3.9,3.3,2.7,4.1,3.4,3.0,3.7,3.2, 3.0,3.6,3.2,4.0,2.8,3.4,3.1,3.7,2.6,3.5,
3.4,2.9,3.7,3.1,2.6,3.9,3.2,2.8,3.5,3.0, 2.9,3.5,3.0,2.5,3.8,3.2,2.7,3.4,3.0,4.2,
3.3,2.7,3.1,2.4,3.6,2.9,3.2,2.6,3.9,3.0, 2.7,3.2,2.5,3.5,2.9,2.2,3.3,2.8,3.6,2.6,
3.1,2.5,3.4,2.8,1.9,3.2,2.6,3.7,2.4,3.0, 2.4,3.1,1.8,2.9,3.5,2.2,0.6,2.8,3.3,2.5,
2.9,2.2,3.3,2.6,-0.1,3.0,2.4,1.5,3.4,2.7, 2.6,3.2,2.8,3.6,2.3,3.0,2.7,3.4,2.5,2.9,
3.2,2.7,3.5,2.9,2.4,3.3,3.0,3.7,2.6,3.1, 2.8,3.4,3.0,2.5,3.6,2.9,3.3,2.7,3.8,3.1,
3.2,2.7,3.5,3.0,2.4,3.3,2.9,3.7,2.6,3.1, 2.9,3.4,2.8,3.6,3.1,2.5,3.3,3.0,3.8,2.7,
3.3,2.8,3.6,3.1,2.6,3.9,3.0,3.4,2.7,3.2, 2.9,3.5,3.1,2.5,3.8,3.3,2.7,3.6,3.0,3.4,
3.4,2.8,3.7,3.1,2.6,4.0,3.2,2.9,3.5,3.0, 3.0,3.6,3.2,4.1,2.7,3.4,3.1,3.8,2.8,3.3,
3.5,3.0,3.9,3.3,2.7,4.3,3.2,3.6,3.0,5.4, 3.2,3.8,3.4,0.6,4.1,3.0,3.6,1.2,3.9,3.3,
3.7,3.2,4.2,3.5,2.9,4.0,3.4,4.5,3.1,3.8, 3.4,4.0,3.6,3.1,4.4,3.5,3.8,3.0,4.1,3.6,
3.9,3.4,4.3,3.7,3.2,4.5,3.6,4.0,3.3,4.2, 4.1,3.6,4.4,3.8,3.3,4.6,3.9,4.2,3.5,4.3
];
const yoshinoDailyB = [
2.3,2.0,2.5,1.8,2.2,2.7,2.0,2.4,1.7,2.3, 2.4,2.1,2.6,1.9,2.3,2.8,2.0,2.5,2.2,1.8,
2.1,2.4,1.9,2.6,2.2,1.7,2.5,2.0,2.3,2.8, 2.3,2.0,2.6,2.1,2.4,1.8,2.7,2.2,2.5,1.9,
2.4,2.1,2.7,2.0,2.5,1.8,2.3,2.8,2.2,2.6, 2.2,2.5,1.9,2.7,2.3,2.0,2.6,2.4,1.7,2.5,
2.2,2.6,1.8,2.4,2.0,2.7,1.6,2.3,2.9,2.1, 2.4,2.0,2.7,1.8,2.5,2.2,2.8,1.5,2.3,2.6,
2.5,2.2,2.8,2.0,2.6,2.3,3.0,2.1,2.4,2.7, 2.6,2.2,2.9,2.4,1.8,2.7,2.3,3.0,2.5,2.2,
2.7,2.4,3.0,2.2,2.6,2.9,2.3,2.8,2.5,3.1, 2.6,2.9,2.3,2.8,2.5,3.2,2.4,2.7,3.0,2.5,
2.8,2.5,3.1,2.6,2.9,2.3,3.0,2.7,3.2,2.6, 2.9,2.6,3.2,2.7,3.0,2.5,3.3,2.8,3.1,2.7,
3.0,2.7,3.3,2.8,3.1,2.6,3.4,2.9,3.2,2.8, 3.1,2.8,3.4,2.9,3.2,2.7,3.5,3.0,3.3,2.9,
3.1,2.8,3.4,3.0,3.3,2.7,3.5,3.1,2.9,3.6, 3.2,2.9,3.5,3.0,3.4,2.8,3.6,3.1,3.3,2.9,
3.2,2.9,3.5,3.0,3.3,2.7,3.6,3.1,2.8,3.4, 3.3,3.0,3.6,3.1,3.4,2.8,3.7,3.2,2.9,3.5,
3.3,3.0,3.6,3.1,3.4,2.9,3.7,3.2,3.0,3.5, 3.2,2.9,3.5,3.0,3.3,2.8,3.6,3.1,3.4,2.9,
3.3,3.0,3.6,3.1,3.4,2.9,3.7,3.2,3.0,3.5, 3.4,3.1,3.7,3.2,3.6,3.0,3.8,3.3,3.5,3.1,
3.9,3.5,4.3,3.7,4.0,3.4,4.4,3.8,4.1,3.6, 3.6,3.3,3.9,3.4,3.7,3.2,4.0,3.5,3.8,3.3,
3.2,2.9,3.4,3.0,3.3,2.8,3.5,3.1,2.9,3.2, 3.1,2.8,3.3,2.9,3.2,2.7,3.4,3.0,2.8,3.1,
3.3,3.0,3.5,3.1,3.4,2.9,3.6,3.2,3.0,3.3, 3.5,3.2,3.8,3.3,3.6,3.1,3.9,3.4,3.7,3.2,
3.9,3.6,4.2,3.7,4.0,3.5,4.3,3.8,3.6,4.1, 4.0,3.7,4.3,3.8,4.1,3.6,4.4,3.9,4.2,3.7,
3.7,3.4,4.0,3.5,3.8,3.3,4.1,3.6,3.4,3.9, 3.6,3.3,3.9,3.4,3.7,3.2,4.0,3.5,3.3,3.8,
3.6,3.3,3.9,3.4,3.7,3.2,4.0,3.5,3.3,3.8, 3.5,3.2,3.8,3.3,3.6,3.1,3.9,3.4,3.2,3.7,
3.5,3.2,3.7,3.3,3.6,3.1,3.8,3.4,3.2,3.5, 3.4,3.1,3.6,3.2,3.5,3.0,3.7,3.3,3.1,3.4,
3.3,3.0,3.5,3.1,3.4,2.9,3.6,3.2,3.0,3.3, 3.2,2.9,3.4,3.0,3.3,2.8,3.5,3.1,2.9,3.2,
3.1,2.8,3.3,2.9,3.2,2.7,3.4,3.0,2.8,3.1, 3.0,2.7,3.2,2.8,3.1,2.6,3.3,2.9,2.7,3.0,
2.9,2.6,3.1,2.7,3.0,2.5,3.2,2.8,2.6,2.9, 2.8,2.4,3.0,1.9,2.7,3.1,2.2,2.9,1.4,2.6,
2.8,2.3,3.0,1.8,2.6,3.2,0.8,2.7,2.4,2.9, 2.9,2.6,3.1,2.7,3.0,2.5,3.2,2.8,2.6,2.9,
3.0,2.7,3.2,2.8,3.1,2.6,3.3,2.9,2.7,3.0, 3.1,2.8,3.3,2.9,3.2,2.7,3.4,3.0,2.8,3.1,
3.1,2.8,3.3,2.9,3.2,2.7,3.4,3.0,2.8,3.1, 3.1,2.8,3.4,3.0,3.3,2.7,3.5,3.1,2.9,3.2,
3.2,2.9,3.4,3.0,3.3,2.8,3.5,3.1,2.9,3.2, 3.2,2.9,3.4,3.0,3.3,2.8,3.5,3.1,2.9,3.2,
3.3,3.0,3.5,3.1,3.4,2.9,3.6,3.2,3.0,3.3, 3.3,3.0,3.6,3.1,3.4,2.9,3.7,3.2,3.0,3.4,
3.4,3.1,3.7,3.2,3.5,3.0,3.8,3.3,3.1,3.4, 3.5,3.1,3.8,3.3,3.6,1.0,3.9,3.4,3.2,3.6,
3.6,3.3,3.9,3.4,3.7,3.2,4.0,3.5,3.3,3.7, 3.7,3.4,4.0,3.5,3.8,3.3,4.1,3.6,3.4,3.7,
3.8,3.5,4.1,3.6,3.9,3.4,4.2,3.7,3.5,3.8, 4.0,3.7,4.3,3.8,4.1,3.6,4.4,3.9,3.7,4.0
];
const yoshinoMA = [
2.2,2.15,2.2,2.25,2.25,2.2,2.2,2.25,2.3,2.3,2.3,2.25,2.3,2.35,2.3,2.35,2.4,2.45,2.5,2.45,2.55,2.6,2.6,2.65,
2.7,2.75,2.8,2.85,2.95,2.95,3.0,3.05,3.05,3.1,3.1,3.05,3.1,3.15,3.1,3.2,3.15,3.2,3.15,3.2,3.25,3.2,3.3,3.45,
3.8,4.1,3.7,3.4,3.15,3.05,3.0,3.05,3.1,3.25,3.35,3.45,3.55,3.75,3.9,4.0,3.85,3.6,3.55,3.5,3.45,3.55,3.5,3.45,
3.4,3.4,3.3,3.3,3.2,3.15,3.1,3.05,3.0,3.0,2.9,2.95,2.85,2.9,2.8,2.65,2.75,2.7,2.75,2.85,2.85,2.95,2.95,3.0,
3.0,3.05,3.05,3.1,3.05,3.1,3.1,3.15,3.15,3.2,3.2,3.25,3.3,3.35,3.4,3.45,3.5,3.5,3.6,3.55,3.65,3.75,3.8,3.85,3.9
];

// ---------- chart building ----------
Chart.defaults.font.family = '"Noto Sans CJK JP", sans-serif';
Chart.defaults.font.size = 13;
Chart.defaults.color = '#000';

const monthTicks = [];
for (let i = 0; i <= 60; i++) monthTicks.push(xYears[0] + i / 12);
const isYear = v => Math.abs(v - Math.round(v)) < 1e-6;

const overlay = {
  id: 'overlay',
  afterDatasetsDraw(chart, args, o) {
    const {ctx, chartArea: a, scales: {x, y}} = chart;
    ctx.save();
    const yr = Math.round(y.getPixelForValue(o.ref)) + 0.5;
    ctx.strokeStyle = '#505050'; ctx.lineWidth = 1.5;
    ctx.beginPath(); ctx.moveTo(a.left, yr); ctx.lineTo(a.right, yr); ctx.stroke();
    ctx.strokeStyle = '#000'; ctx.lineWidth = 2;
    ctx.strokeRect(a.left, a.top, a.right - a.left, a.bottom - a.top);
    ctx.restore();
  },
  afterDraw(chart, args, o) {
    const {ctx, chartArea: a, scales: {x}} = chart;
    const x0 = x.getPixelForValue(bandStart), x1 = x.getPixelForValue(bandEnd), xq = Math.round(x.getPixelForValue(quakeDate)) + 0.5;
    const top = o.first ? a.top - 1 : 0;
    const bottom = o.last ? a.bottom + 8 : chart.height;
    ctx.save();
    ctx.fillStyle = 'rgba(59,192,128,0.39)';
    ctx.fillRect(x0, top, x1 - x0, bottom - top);
    ctx.strokeStyle = '#3a7ca5'; ctx.lineWidth = 1.5; ctx.setLineDash([10, 5]);
    ctx.beginPath();
    ctx.moveTo(xq, o.first ? a.top + 16 : 0);
    ctx.lineTo(xq, o.last ? a.bottom + 3 : chart.height);
    ctx.stroke();
    ctx.restore();
  }
};

function makeChart(idx, dailyA, dailyB, ma, yTicks, padTop, xHeight) {
  document.getElementById('t' + idx).textContent = panelTitles[idx];
  const pts = dailyA.map((v, i) => ({x: xYears[0] + (Math.floor(i / 10) + ((i % 10) + 0.25) / 10) / 12, y: v}))
    .concat(dailyB.map((v, i) => ({x: xYears[0] + (Math.floor(i / 10) + ((i % 10) + 0.75) / 10) / 12, y: v})));
  const line = ma.map((v, k) => ({x: xYears[0] + k / 24, y: v}));
  new Chart(document.getElementById('c' + idx), {
    type: 'scatter',
    data: {datasets: [
      {label: '30 区間移動平均 (鉛直変動)', data: line, showLine: true, borderColor: '#000', borderWidth: 1.3, pointRadius: 0, order: 0},
      {label: '鉛直変動', data: pts, pointRadius: 1.8, pointBackgroundColor: '#ff0000', pointBorderWidth: 0, order: 1}
    ]},
    options: {
      responsive: false, animation: false, devicePixelRatio: 1,
      layout: {padding: {top: padTop, right: 18, left: 0, bottom: 0}},
      plugins: {legend: {display: false}, tooltip: {enabled: false}, overlay: {ref: refLevels[idx], first: idx === 0, last: idx === 3}},
      scales: {
        x: {
          type: 'linear', min: xYears[0], max: xYears[xYears.length - 1],
          afterBuildTicks: s => { s.ticks = monthTicks.map(v => ({value: v})); },
          afterFit: s => { s.height = xHeight; },
          ticks: {autoSkip: false, maxRotation: 0, padding: 3, callback: v => isYear(v) ? String(Math.round(v)) : ''},
          grid: {color: c => (c.tick && isYear(c.tick.value)) ? '#999' : 'rgba(0,0,0,0)', tickColor: '#000', tickLength: 5, lineWidth: 1},
          border: {display: false}
        },
        y: {
          min: yTicks[0], max: yTicks[2],
          afterBuildTicks: s => { s.ticks = yTicks.map(v => ({value: v})); },
          afterFit: s => { s.width = 44; },
          ticks: {padding: 5, callback: v => String(v)},
          grid: {color: 'rgba(0,0,0,0)', tickColor: '#000', tickLength: 5},
          border: {display: false}
        }
      }
    },
    plugins: [overlay]
  });
}

makeChart(0, sakurajimaDaily, sakurajimaDailyB, sakurajimaMA, yTicks0, 34, 32);
makeChart(1, kagoshima3Daily, kagoshima3DailyB, kagoshima3MA, yTicks1, 34, 34);
makeChart(2, fukuyamaDaily, fukuyamaDailyB, fukuyamaMA, yTicks2, 34, 35);
makeChart(3, yoshinoDaily, yoshinoDailyB, yoshinoMA, yTicks3, 33, 37);
</script>
</body></html>
